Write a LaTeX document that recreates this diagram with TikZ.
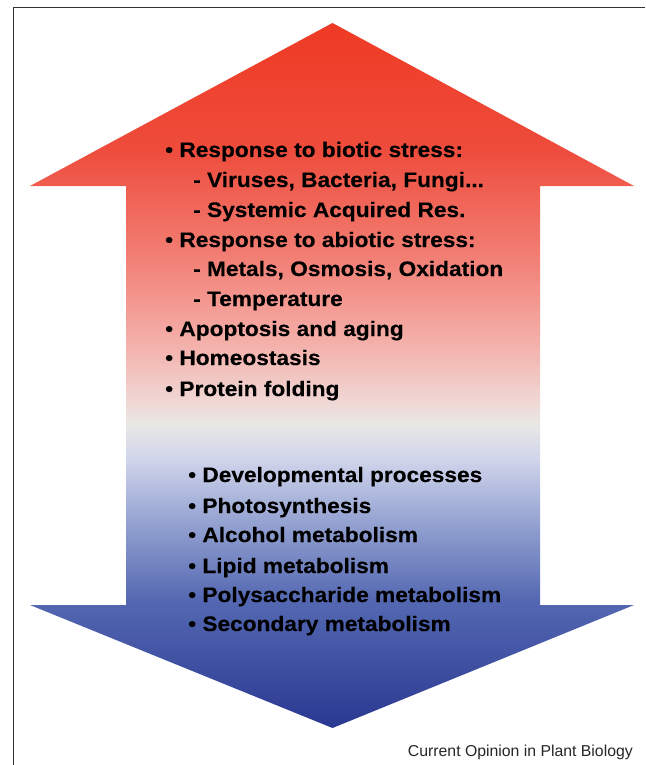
\documentclass[tikz,border=0pt]{standalone}
\usepackage{fontspec}
\setmainfont{Liberation Sans}
\newfontfamily\wideb[FakeStretch=1.08,FakeBold=0.3]{Liberation Sans Bold}
\usetikzlibrary{positioning}
\definecolor{framec}{RGB}{50,50,50}
\definecolor{ca}{RGB}{238,58,36}
\definecolor{cb}{RGB}{238,76,60}
\definecolor{cc}{RGB}{242,128,118}
\definecolor{cd}{RGB}{244,180,175}
\definecolor{ce}{RGB}{240,214,211}
\definecolor{cf}{RGB}{232,232,230}
\definecolor{cg}{RGB}{208,212,235}
\definecolor{ch}{RGB}{150,164,210}
\definecolor{ci}{RGB}{84,104,178}
\definecolor{cj}{RGB}{42,56,145}
\pgfdeclareverticalshading{arrowshade}{100bp}{%
  color(0bp)=(cj); color(25bp)=(cj); color(34.08bp)=(ci);
  color(39.75bp)=(ch); color(44.01bp)=(cg); color(46.49bp)=(cf);
  color(48.26bp)=(ce); color(51.81bp)=(cd); color(58.19bp)=(cc);
  color(65.99bp)=(cb); color(75bp)=(ca); color(100bp)=(ca)}
\tikzset{
  item/.style={anchor=base west, inner sep=0pt, font=\wideb\fontsize{21}{25}\selectfont, text=black},
  caption/.style={anchor=base east, inner sep=0pt, font=\fontsize{15.8}{19}\selectfont, text=black!85}
}
\begin{document}
\begin{tikzpicture}[x=1pt,y=-1pt]
\useasboundingbox (0,0) rectangle (645,765);
% frame (left and top edges)
\draw[framec, line width=1.2pt] (13.3,765) -- (13.3,7.5) -- (645,7.5);
% double arrow
\path[shading=arrowshade]
  (332.5,23) -- (634,186) -- (540,186) -- (540,605) -- (634,605)
  -- (332.5,728) -- (30,605) -- (126,605) -- (126,186) -- (30,186) -- cycle;
% upper list
\node[item] (u1) at (165,157) {• Response to biotic stress:};
\node[item] (u2) at (193,187) {- Viruses, Bacteria, Fungi...};
\node[item] (u3) at (193,217) {- Systemic Acquired Res.};
\node[item] (u4) at (165,247) {• Response to abiotic stress:};
\node[item] (u5) at (193,276) {- Metals, Osmosis, Oxidation};
\node[item] (u6) at (193,306) {- Temperature};
\node[item] (u7) at (165,336) {• Apoptosis and aging};
\node[item] (u8) at (165,365) {• Homeostasis};
\node[item] (u9) at (165,396) {• Protein folding};
% lower list
\node[item] (l1) at (188,482) {• Developmental processes};
\node[item] (l2) at (188,513) {• Photosynthesis};
\node[item] (l3) at (188,542) {• Alcohol metabolism};
\node[item] (l4) at (188,573) {• Lipid metabolism};
\node[item] (l5) at (188,602) {• Polysaccharide metabolism};
\node[item] (l6) at (188,631) {• Secondary metabolism};
% caption
\node[caption] (cap) at (633,756) {Current Opinion in Plant Biology};
\end{tikzpicture}
\end{document}
